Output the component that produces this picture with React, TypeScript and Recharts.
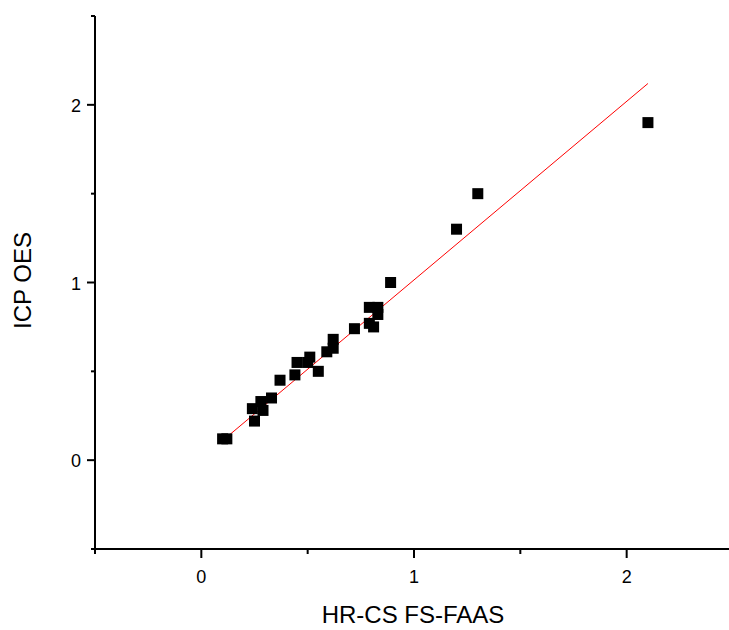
import { ScatterChart, Scatter, XAxis, YAxis, ReferenceLine, Label } from 'recharts';

// HR-CS FS-FAAS (x) vs ICP OES (y)
const faas = [
  0.1, 0.12, 0.25, 0.24, 0.28, 0.29, 0.33, 0.37, 0.44, 0.45, 0.5, 0.51, 0.55,
  0.59, 0.62, 0.62, 0.72, 0.79, 0.83, 0.79, 0.81, 0.83, 0.89, 1.2, 1.3, 2.1,
];
const icp = [
  0.12, 0.12, 0.22, 0.29, 0.33, 0.28, 0.35, 0.45, 0.48, 0.55, 0.55, 0.58, 0.5,
  0.61, 0.68, 0.63, 0.74, 0.86, 0.86, 0.77, 0.75, 0.82, 1.0, 1.3, 1.5, 1.9,
];
const fitX = [0.1, 2.1];
const fitY = [0.11, 2.12];
const axisTicks = [-0.5, 0, 0.5, 1, 1.5, 2, 2.5];

const points = faas.map((x, i) => ({ x, y: icp[i] }));
const FONT = '"Liberation Sans", Arial, sans-serif';

const SquareDot = (p: any) => (
  <rect x={p.cx - 5.5} y={p.cy - 5.5} width={11} height={11} fill="#000" />
);

const XTick = (p: any) => {
  const { x, y, payload } = p;
  const major = Number.isInteger(payload.value);
  return (
    <g>
      <line x1={x} y1={y} x2={x} y2={y + (major ? 9 : 5)} stroke="#000" strokeWidth={2} />
      {major && (
        <text x={x} y={y + 34} textAnchor="middle" fontSize={18} fontFamily={FONT} fill="#000">
          {payload.value}
        </text>
      )}
    </g>
  );
};

const YTick = (p: any) => {
  const { x, y, payload } = p;
  const major = Number.isInteger(payload.value);
  return (
    <g>
      <line x1={x} y1={y} x2={x - (major ? 8 : 4)} y2={y} stroke="#000" strokeWidth={2} />
      {major && (
        <text x={x - 14} y={y + 7} textAnchor="end" fontSize={18} fontFamily={FONT} fill="#000">
          {payload.value}
        </text>
      )}
    </g>
  );
};

export default function App() {
  return (
    <div style={{ position: 'absolute', left: 0, top: 0, width: 729, height: 630, overflow: 'hidden', background: '#fff' }}>
      <ScatterChart width={740} height={630} margin={{ top: 16, right: 7, bottom: 51, left: 35 }}>
        <XAxis
          type="number"
          dataKey="x"
          domain={[-0.5, 2.5]}
          ticks={axisTicks}
          interval={0}
          height={30}
          tickSize={0}
          tickMargin={0}
          tickLine={false}
          tick={<XTick />}
          axisLine={{ stroke: '#000', strokeWidth: 2 }}
        >
          <Label
            content={(props: any) => {
              const vb = props.viewBox;
              return (
                <text x={vb.x + vb.width / 2 - 1} y={vb.y + vb.height + 44} textAnchor="middle" fontSize={24} fontFamily={FONT} fill="#000">
                  HR-CS FS-FAAS
                </text>
              );
            }}
          />
        </XAxis>
        <YAxis
          type="number"
          dataKey="y"
          domain={[-0.5, 2.5]}
          ticks={axisTicks}
          interval={0}
          width={60}
          tickSize={0}
          tickMargin={0}
          tickLine={false}
          tick={<YTick />}
          axisLine={{ stroke: '#000', strokeWidth: 2 }}
        >
          <Label
            content={(props: any) => {
              const vb = props.viewBox;
              const cx = vb.x - 4;
              const cy = vb.y + vb.height / 2 - 2;
              return (
                <text x={cx} y={cy} transform={`rotate(-90 ${cx} ${cy})`} textAnchor="middle" fontSize={24} fontFamily={FONT} fill="#000">
                  ICP OES
                </text>
              );
            }}
          />
        </YAxis>
        <ReferenceLine
          segment={[
            { x: fitX[0], y: fitY[0] },
            { x: fitX[1], y: fitY[1] },
          ]}
          stroke="#ff0000"
          strokeWidth={1}
        />
        <Scatter data={points} shape={<SquareDot />} isAnimationActive={false} />
      </ScatterChart>
    </div>
  );
}
